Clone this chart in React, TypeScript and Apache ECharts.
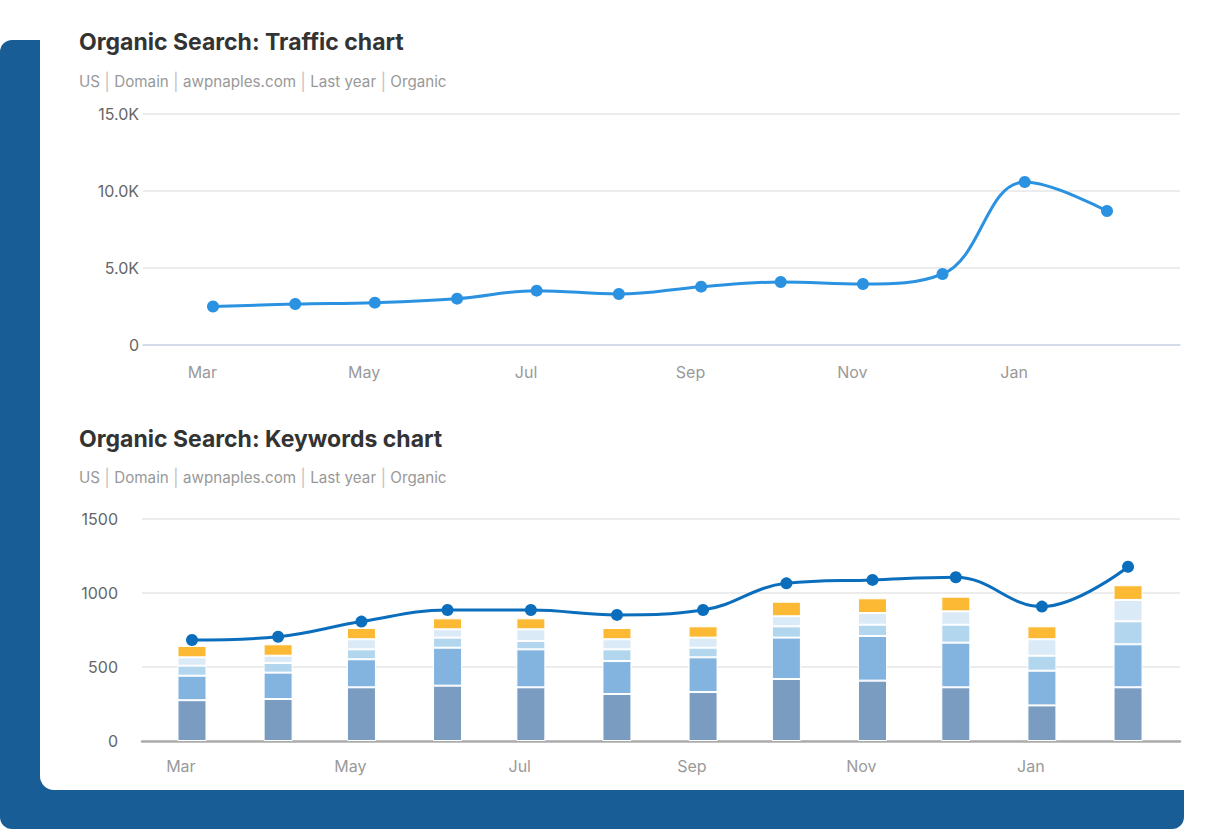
import React, { useEffect, useRef } from "react";
import * as echarts from "echarts";

// ---------- data ----------
const dates = [
  "2023-03-05", "2023-04-05", "2023-05-05", "2023-06-05", "2023-07-05", "2023-08-05",
  "2023-09-05", "2023-10-05", "2023-11-05", "2023-12-05", "2024-01-05", "2024-02-05",
];
const monthNames = ["Jan", "Feb", "Mar", "Apr", "May", "Jun", "Jul", "Aug", "Sep", "Oct", "Nov", "Dec"];
const labelDates = ["2023-03-01", "2023-05-01", "2023-07-01", "2023-09-01", "2023-11-01", "2024-01-01"];

const traffic = [2500, 2660, 2750, 3010, 3530, 3310, 3790, 4090, 3960, 4610, 10580, 8700];

const pos51to100 = [275, 283, 362, 373, 362, 317, 330, 418, 407, 362, 240, 362];
const pos21to50 = [165, 178, 189, 256, 256, 222, 234, 279, 301, 301, 234, 290];
const pos11to20 = [68, 65, 67, 68, 56, 79, 65, 76, 76, 121, 101, 155];
const pos4to10 = [56, 49, 68, 56, 79, 68, 68, 68, 79, 90, 111, 144];
const top3 = [77, 77, 76, 74, 74, 76, 76, 98, 99, 99, 87, 99];
const keywords = [681, 703, 805, 883, 883, 850, 883, 1063, 1086, 1104, 906, 1175];

const title1 = "Organic Search: Traffic chart";
const title2 = "Organic Search: Keywords chart";
const subtitleParts = ["US", "Domain", "awpnaples.com", "Last year", "Organic"];

// ---------- helpers ----------
const ts = (s: string) => new Date(s.length > 10 ? s : s + "T00:00:00").getTime();
const pairs = (vals: number[]) => vals.map((v, i) => [dates[i], v]);
const subtitle = subtitleParts.join(" {p||} ");

const FONT = "Inter, Roboto, 'Noto Sans', sans-serif";

const GRID_LEFT_1 = 143;
const GRID_LEFT_2 = 142;
const GRID_RIGHT = 44;
const BAR_W = 29;

export default function App() {
  const ref = useRef<HTMLDivElement>(null);

  useEffect(() => {
    if (!ref.current) return;
    const chart = echarts.init(ref.current, undefined, { renderer: "svg" });

    const range1 = [ts("2023-02-06T14:38:00"), ts("2024-03-03T12:30:00")];
    const range2 = [ts("2023-02-15T00:00:00"), ts("2024-02-23T17:00:00")];
    // ECharts widens a time axis that carries bars by half a bar on each side;
    // pre-shrink the range so the final scale equals range2.
    const len2 = 1224 - GRID_LEFT_2 - GRID_RIGHT;
    const d2 = ((range2[1] - range2[0]) * (BAR_W / 2)) / len2;
    const barRange2 = [range2[0] + d2, range2[1] - d2];

    const labelAxis = (gridIndex: number, range: number[], line: any, margin: number) => ({
      type: "value",
      gridIndex,
      position: "bottom",
      min: range[0],
      max: range[1],
      axisLine: { show: true, lineStyle: line },
      axisTick: { show: false },
      splitLine: { show: false },
      axisLabel: {
        customValues: labelDates.map(ts),
        formatter: (v: number) => monthNames[new Date(v).getMonth()],
        color: "#9a9a9a",
        fontSize: 16,
        fontFamily: FONT,
        margin,
      },
    });
    const dataAxis = (gridIndex: number, range: number[]) => ({
      type: "time",
      gridIndex,
      position: "bottom",
      min: range[0],
      max: range[1],
      show: false,
    });

    const barSeries = [
      { name: "51-100", data: pos51to100, color: "#7a9cc1" },
      { name: "21-50", data: pos21to50, color: "#83b4e0" },
      { name: "11-20", data: pos11to20, color: "#b3d6ef" },
      { name: "4-10", data: pos4to10, color: "#dbeaf7" },
      { name: "Top 3", data: top3, color: "#fbb934" },
    ].map((s) => ({
      type: "bar",
      name: s.name,
      xAxisIndex: 3,
      yAxisIndex: 1,
      stack: "kw",
      barWidth: BAR_W,
      data: pairs(s.data),
      itemStyle: { color: s.color, borderColor: "#ffffff", borderWidth: 1 },
      emphasis: { disabled: true },
    }));

    const titleStyle = { fontSize: 23, fontWeight: "bold", color: "#333333", fontFamily: FONT };
    const subStyle = {
      fontSize: 15.2,
      fontWeight: "normal",
      color: "#999999",
      fontFamily: FONT,
      rich: { p: { color: "#c4c4c4", fontSize: 17, fontFamily: FONT } },
    };

    chart.setOption({
      animation: false,
      backgroundColor: "transparent",
      textStyle: { fontFamily: FONT },
      title: [
        { text: title1, left: 74, top: 25, textStyle: titleStyle },
        { text: subtitle, left: 74, top: 68, textStyle: subStyle },
        { text: title2, left: 74, top: 422, textStyle: titleStyle },
        { text: subtitle, left: 74, top: 464, textStyle: subStyle },
      ],
      grid: [
        { left: GRID_LEFT_1, right: GRID_RIGHT, top: 114, height: 231 },
        { left: GRID_LEFT_2, right: GRID_RIGHT, top: 518.5, height: 222.5 },
      ],
      xAxis: [
        labelAxis(0, range1, { color: "#ccd6eb", width: 1.5 }, 19),
        dataAxis(0, range1),
        labelAxis(1, range2, { color: "#acacac", width: 2.5 }, 17),
        dataAxis(1, barRange2),
      ],
      yAxis: [
        {
          type: "value",
          gridIndex: 0,
          min: 0,
          max: 15000,
          interval: 5000,
          axisLine: { show: false },
          axisTick: { show: false },
          splitLine: { lineStyle: { color: "#e6e6e6", width: 1.5 } },
          axisLabel: {
            formatter: (v: number) => (v === 0 ? "0" : (v / 1000).toFixed(1) + "K"),
            color: "#666666",
            fontSize: 16,
            fontFamily: FONT,
            margin: 4,
          },
        },
        {
          type: "value",
          gridIndex: 1,
          min: 0,
          max: 1500,
          interval: 500,
          axisLine: { show: false },
          axisTick: { show: false },
          splitLine: { lineStyle: { color: "#e6e6e6", width: 1.5 } },
          axisLabel: {
            formatter: (v: number) => String(v),
            color: "#666666",
            fontSize: 16,
            fontFamily: FONT,
            margin: 24,
          },
        },
      ],
      series: [
        {
          type: "line",
          name: "Traffic",
          xAxisIndex: 1,
          yAxisIndex: 0,
          data: pairs(traffic),
          smooth: 0.4,
          symbol: "circle",
          symbolSize: 12,
          lineStyle: { color: "#2a92e0", width: 3 },
          itemStyle: { color: "#2a92e0" },
          emphasis: { disabled: true },
          z: 3,
        },
        ...barSeries,
        {
          type: "line",
          name: "Keywords",
          xAxisIndex: 3,
          yAxisIndex: 1,
          data: pairs(keywords),
          smooth: 0.4,
          symbol: "circle",
          symbolSize: 12,
          lineStyle: { color: "#0b6ebd", width: 3 },
          itemStyle: { color: "#0b6ebd" },
          emphasis: { disabled: true },
          z: 4,
        },
      ],
    });

    return () => chart.dispose();
  }, []);

  return (
    <div style={{ position: "absolute", left: 0, top: 0, width: 1224, height: 830, background: "#ffffff", overflow: "hidden" }}>
      <div
        style={{
          position: "absolute",
          left: 0,
          top: 40,
          width: 1184,
          height: 789,
          background: "#185d96",
          borderRadius: 12,
        }}
      />
      <div
        style={{
          position: "absolute",
          left: 40,
          top: -30,
          width: 1200,
          height: 820,
          background: "#ffffff",
          borderRadius: 14,
        }}
      />
      <div ref={ref} style={{ position: "absolute", left: 0, top: 0, width: 1224, height: 830 }} />
    </div>
  );
}
